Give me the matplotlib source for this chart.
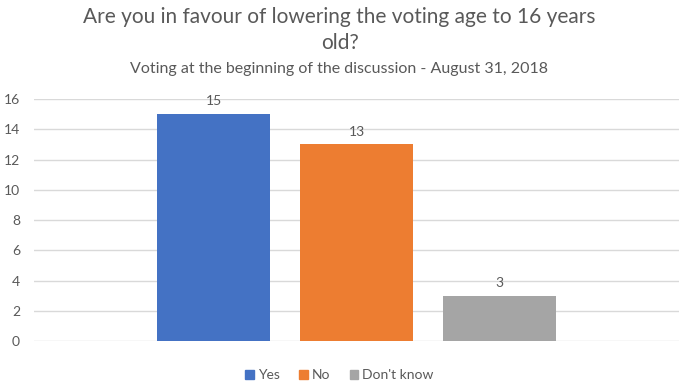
import matplotlib.pyplot as plt
from matplotlib.patches import Patch

plt.rcParams['font.family'] = ['Lato', 'DejaVu Sans']

labels = ['Yes', 'No', "Don't know"]
votes = [15, 13, 3]
colors = ['#4472C4', '#ED7D31', '#A5A5A5']
yticks = [0, 2, 4, 6, 8, 10, 12, 14, 16]

txt = '#595959'

fig = plt.figure(figsize=(6.79, 3.82), dpi=100)
ax = fig.add_axes([34 / 679, 41 / 382, 645 / 679, 242 / 382])

x = range(len(votes))
bars = ax.bar(x, votes, width=0.785, color=colors, zorder=3)
for b, v in zip(bars, votes):
    ax.text(b.get_x() + b.get_width() / 2, v + 0.45, str(v),
            ha='center', va='bottom', fontsize=10, color=txt)

ax.set_xlim(-1.255, 3.255)
ax.set_ylim(0, 16)
ax.set_yticks(yticks)
ax.set_xticks([])
ax.grid(axis='y', color='#D9D9D9', linewidth=1, zorder=0)
for s in ax.spines.values():
    s.set_visible(False)
ax.tick_params(axis='y', length=0, labelsize=10, labelcolor=txt, pad=10)

fig.text(0.5, 0.955, 'Are you in favour of lowering the voting age to 16 years',
         ha='center', va='center', fontsize=15, color=txt)
fig.text(0.5, 0.888, 'old?', ha='center', va='center', fontsize=15, color=txt)
fig.text(0.5, 0.82, 'Voting at the beginning of the discussion - August 31, 2018',
         ha='center', va='center', fontsize=11.5, color=txt)

handles = [Patch(color=c) for c in colors]
fig.legend(handles, labels, loc='center', bbox_to_anchor=(0.5, 0.018),
           ncol=3, frameon=False, fontsize=10, handlelength=0.6,
           handleheight=0.6, handletextpad=0.3, columnspacing=1.4,
           labelcolor=txt)

plt.savefig('out.png', dpi=100)
